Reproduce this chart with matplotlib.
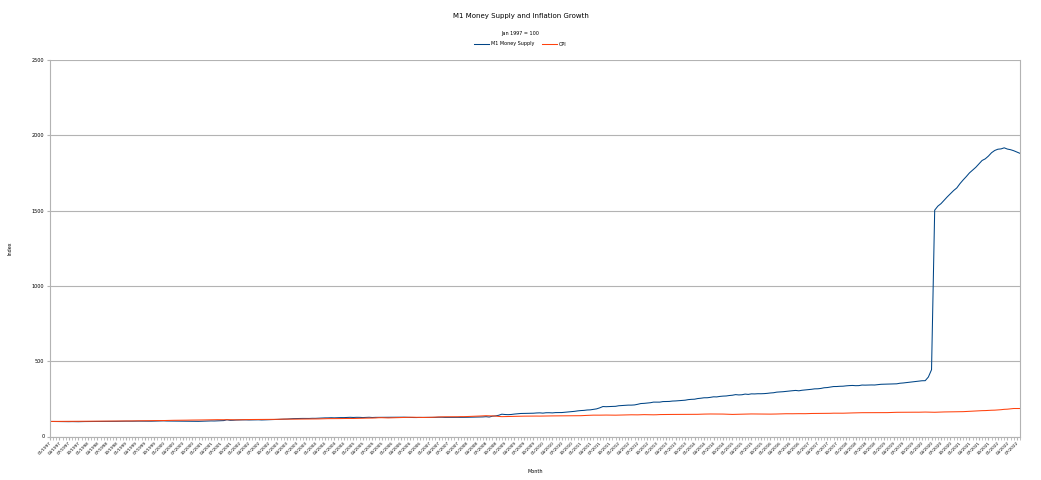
import pandas as pd
import matplotlib.pyplot as plt
from matplotlib.ticker import FixedLocator, MultipleLocator

# M1 money supply, billions of dollars, Jan 1997 - Aug 2022 (monthly)
m1 = [
    1080.0, 1077.0, 1073.6, 1066.6, 1064.5, 1064.6, 1063.8, 1068.8, 1064.0, 1061.5, 1069.3, 1072.8,
    1073.9, 1076.3, 1075.5, 1078.3, 1075.7, 1072.9, 1073.8, 1075.0, 1080.3, 1086.4, 1092.9, 1095.0,
    1098.4, 1096.0, 1097.0, 1103.8, 1103.4, 1101.6, 1101.5, 1097.2, 1098.4, 1104.8, 1115.3, 1122.2,
    1122.7, 1111.1, 1108.4, 1112.7, 1105.4, 1102.9, 1100.7, 1097.5, 1095.2, 1091.8, 1087.9, 1087.4,
    1096.1, 1097.8, 1105.8, 1117.2, 1113.3, 1122.4, 1134.1, 1141.7, 1199.3, 1159.5, 1166.0, 1182.0,
    1189.0, 1191.0, 1192.4, 1185.7, 1189.8, 1192.6, 1197.6, 1186.0, 1193.4, 1202.9, 1211.6, 1219.4,
    1227.3, 1236.6, 1238.9, 1251.0, 1267.6, 1281.9, 1288.7, 1293.7, 1296.0, 1294.2, 1293.5, 1304.0,
    1302.4, 1313.8, 1332.0, 1334.4, 1336.3, 1346.2, 1338.6, 1348.1, 1355.6, 1354.5, 1366.1, 1375.9,
    1364.5, 1374.8, 1372.0, 1358.8, 1371.4, 1378.5, 1361.5, 1371.6, 1373.2, 1370.0, 1368.9, 1374.8,
    1379.6, 1377.6, 1386.8, 1378.4, 1385.1, 1375.1, 1370.6, 1361.9, 1360.4, 1368.4, 1368.0, 1366.7,
    1370.6, 1366.6, 1370.7, 1380.3, 1381.0, 1370.5, 1370.2, 1377.8, 1375.5, 1372.2, 1366.9, 1375.0,
    1379.1, 1378.2, 1389.7, 1389.8, 1393.1, 1404.2, 1421.4, 1395.6, 1456.0, 1476.4, 1522.1, 1599.8,
    1576.8, 1567.1, 1579.7, 1609.1, 1627.0, 1650.7, 1654.4, 1656.3, 1668.4, 1669.7, 1687.6, 1695.8,
    1675.9, 1703.5, 1705.3, 1693.1, 1714.3, 1718.5, 1717.9, 1738.4, 1757.2, 1775.4, 1804.0, 1836.7,
    1859.8, 1872.3, 1900.9, 1911.2, 1946.7, 1981.7, 2056.0, 2149.3, 2137.0, 2149.0, 2157.0, 2164.1,
    2205.3, 2218.9, 2232.3, 2250.2, 2250.3, 2264.5, 2309.9, 2364.2, 2375.7, 2398.0, 2421.5, 2465.7,
    2466.9, 2464.4, 2504.8, 2507.4, 2514.1, 2541.9, 2551.1, 2570.8, 2586.3, 2603.1, 2644.5, 2664.6,
    2674.7, 2721.3, 2744.9, 2777.5, 2778.8, 2807.3, 2846.0, 2838.6, 2875.0, 2896.2, 2906.3, 2939.0,
    2960.3, 3003.9, 2981.0, 2994.2, 3041.9, 3019.2, 3058.3, 3052.4, 3067.6, 3066.2, 3075.2, 3093.6,
    3121.0, 3138.2, 3181.5, 3196.1, 3212.0, 3238.4, 3258.8, 3283.4, 3304.2, 3277.0, 3315.6, 3341.9,
    3361.7, 3384.6, 3416.8, 3422.3, 3448.1, 3495.6, 3509.6, 3544.4, 3582.7, 3584.3, 3601.0, 3607.2,
    3633.1, 3650.9, 3660.6, 3644.6, 3649.5, 3689.1, 3683.3, 3691.2, 3696.8, 3692.5, 3721.3, 3743.8,
    3751.4, 3751.2, 3761.3, 3774.8, 3778.3, 3819.6, 3837.9, 3864.9, 3886.2, 3924.9, 3946.0, 3977.0,
    3998.3, 4003.1, 4265.4, 4789.2, 16232.0, 16520.0, 16700.0, 16950.0, 17190.0, 17420.0, 17640.0, 17826.0,
    18133.0, 18397.0, 18640.0, 18903.0, 19106.0, 19303.0, 19554.0, 19794.0, 19911.0, 20108.0, 20352.0, 20512.0,
    20602.0, 20625.0, 20702.0, 20613.0, 20568.0, 20495.0, 20401.0, 20305.0,
]

# CPI (all urban consumers), Jan 1997 - Aug 2022 (monthly)
cpi = [
    159.4, 159.7, 159.8, 159.9, 159.9, 160.2, 160.4, 160.6, 160.8, 161.0, 161.2, 161.3,
    161.6, 161.9, 162.2, 162.5, 162.8, 163.0, 163.2, 163.4, 163.6, 164.0, 164.0, 164.4,
    164.7, 164.7, 164.8, 165.9, 166.0, 166.0, 166.7, 167.1, 167.9, 168.2, 168.3, 168.3,
    168.8, 169.8, 171.2, 171.3, 171.5, 172.4, 172.8, 172.8, 173.7, 174.0, 174.1, 174.0,
    175.1, 175.8, 176.2, 176.9, 177.7, 178.0, 177.5, 177.5, 178.3, 177.7, 177.4, 176.7,
    177.1, 177.8, 178.8, 179.8, 179.8, 179.9, 180.1, 180.7, 181.0, 181.3, 181.3, 180.9,
    181.7, 183.1, 184.2, 183.8, 183.5, 183.7, 183.9, 184.6, 185.2, 185.0, 184.5, 184.3,
    185.2, 186.2, 187.4, 188.0, 189.1, 189.7, 189.4, 189.5, 189.9, 190.9, 191.0, 190.3,
    190.7, 191.8, 193.3, 194.6, 194.4, 194.5, 195.4, 196.4, 198.8, 199.2, 197.6, 196.8,
    198.3, 198.7, 199.8, 201.5, 202.5, 202.9, 203.5, 203.9, 202.9, 201.8, 201.5, 201.8,
    202.4, 203.5, 205.4, 206.7, 207.9, 208.4, 208.3, 207.9, 208.5, 208.9, 210.2, 210.0,
    211.1, 211.7, 213.5, 214.8, 216.6, 218.8, 220.0, 219.1, 218.8, 216.6, 212.4, 210.2,
    211.1, 212.2, 212.7, 213.2, 213.9, 215.7, 215.4, 215.8, 216.0, 216.2, 216.3, 215.9,
    216.7, 216.7, 217.6, 218.0, 218.2, 218.0, 218.0, 218.3, 218.4, 218.7, 218.8, 219.2,
    220.2, 221.3, 223.5, 224.9, 226.0, 225.7, 225.9, 226.5, 226.9, 226.4, 226.2, 225.7,
    226.7, 227.7, 229.4, 230.1, 229.8, 229.5, 229.1, 230.4, 231.4, 231.3, 230.2, 229.6,
    230.3, 232.2, 232.8, 232.5, 232.9, 233.5, 233.6, 233.9, 234.1, 233.5, 233.1, 233.0,
    233.9, 234.8, 236.3, 237.1, 237.9, 238.3, 238.3, 237.9, 238.0, 237.4, 236.2, 234.8,
    233.7, 234.7, 236.1, 236.6, 237.8, 238.6, 238.7, 238.3, 237.9, 237.8, 237.3, 236.5,
    236.9, 237.1, 238.1, 239.3, 240.2, 241.0, 240.6, 240.8, 241.4, 241.7, 241.4, 241.4,
    242.8, 243.6, 243.8, 244.5, 244.7, 245.0, 244.8, 245.5, 246.8, 246.7, 246.7, 246.5,
    247.9, 249.0, 249.6, 250.5, 251.6, 252.0, 252.0, 252.1, 252.4, 252.9, 252.0, 251.2,
    251.7, 252.8, 254.2, 255.5, 256.1, 256.1, 256.6, 256.6, 256.8, 257.3, 257.2, 257.0,
    258.0, 258.7, 258.1, 256.4, 256.4, 257.8, 259.1, 259.9, 260.3, 260.4, 260.2, 260.5,
    261.6, 263.0, 264.9, 267.1, 269.2, 271.7, 273.0, 273.6, 274.3, 276.6, 277.9, 278.8,
    281.1, 283.7, 287.5, 289.1, 292.3, 296.3, 296.3, 296.2,
]

months = pd.date_range('1997-01-01', periods=len(m1), freq='MS')
month_labels = months.strftime('%m/%Y').tolist()

# index both series to Jan 1997 = 100
m1_idx = [v / m1[0] * 100 for v in m1]
cpi_idx = [v / cpi[0] * 100 for v in cpi]
x = list(range(len(m1)))

fig = plt.figure(figsize=(10.41, 4.8), dpi=100)
ax = fig.add_axes([50 / 1041, 1 - 436.5 / 480, 970 / 1041, 376.5 / 480])

ax.plot(x, m1_idx, color='#004586', lw=0.75, label='M1 Money Supply')
ax.plot(x, cpi_idx, color='#ff420e', lw=0.75, label='CPI')

ax.set_xlim(0, len(x) - 1)
ax.set_ylim(0, 2500)
ax.yaxis.set_major_locator(MultipleLocator(500))
ax.grid(axis='y', color='#b3b3b3', lw=0.8)
ax.set_axisbelow(True)

ax.xaxis.set_major_locator(FixedLocator(x[::3]))
ax.set_xticklabels(month_labels[::3], rotation=45, ha='right', rotation_mode='anchor', fontsize=3)
ax.xaxis.set_minor_locator(FixedLocator(x))
ax.tick_params(axis='x', which='both', length=2, color='#b3b3b3', pad=1)
ax.tick_params(axis='y', length=2, color='#b3b3b3', labelsize=3.5, pad=2)

for side in ['left', 'bottom', 'right']:
    ax.spines[side].set_color('#b3b3b3')
ax.spines['top'].set_visible(False)

ax.set_ylabel('Index', fontsize=3.5, labelpad=14)
ax.set_xlabel('Month', fontsize=3.5, labelpad=10)

fig.text(0.5, 1 - 16 / 480, 'M1 Money Supply and Inflation Growth', ha='center', va='center', fontsize=5)
fig.text(0.5, 1 - 34 / 480, 'Jan 1997 = 100', ha='center', va='center', fontsize=3.5)
fig.legend(loc='center', bbox_to_anchor=(0.5, 1 - 44 / 480), ncol=2, frameon=False,
           fontsize=3.5, handlelength=3, columnspacing=1.5, handletextpad=0.5)

plt.savefig('out.png', dpi=100)
